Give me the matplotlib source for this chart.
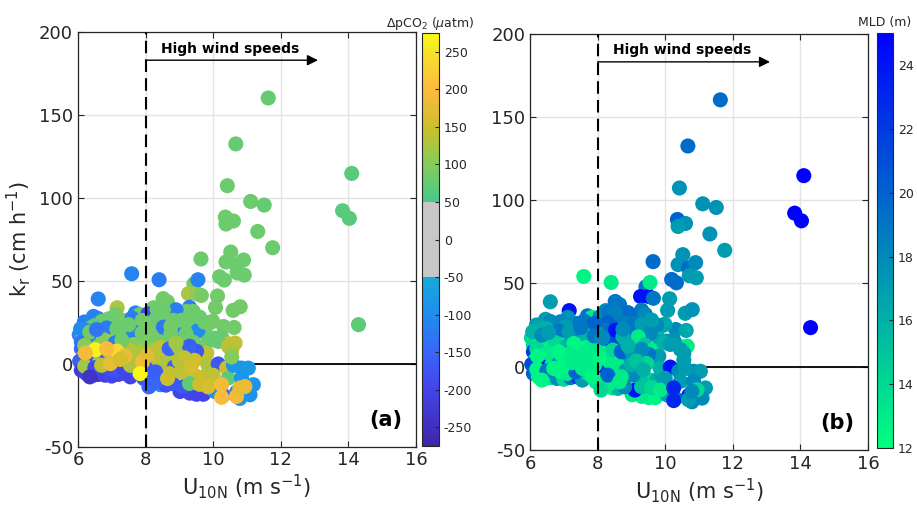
import numpy as np
import matplotlib
matplotlib.use("Agg")
import matplotlib.pyplot as plt
from matplotlib.colors import LinearSegmentedColormap, ListedColormap

# wind speed U10N (m/s), transfer velocity kr (cm/h), dpCO2 (uatm), MLD (m)
u10n = [
    11.63, 10.67, 14.10, 10.42, 11.11, 11.51, 13.83, 14.03, 10.36, 10.60,
    10.38, 11.32, 11.76, 10.52, 9.64, 10.38, 10.69, 10.90, 10.71, 10.92,
    10.19, 10.33, 9.43, 10.13, 14.30, 10.07, 10.59, 10.80, 10.31, 10.62,
    9.97, 9.27, 9.51, 9.65, 7.59, 8.40, 9.55, 6.60, 9.30, 8.52,
    8.65, 8.24, 7.16, 7.12, 7.70, 7.83, 8.07, 6.19, 6.46, 6.60,
    7.26, 8.80, 9.02, 9.22, 9.41, 8.90, 9.02, 9.07, 8.62, 8.82,
    9.07, 9.31, 9.41, 9.80, 9.99, 9.69, 9.86, 10.05, 10.25, 10.45,
    10.65, 8.57, 8.43, 8.50, 8.62, 8.34, 8.53, 8.29, 8.22, 8.44,
    8.17, 8.42, 8.53, 9.55, 9.75, 9.20, 8.75, 8.95, 9.40, 9.60,
    6.30, 6.42, 6.71, 6.49, 7.35, 7.48, 7.75, 7.94, 6.04, 6.12,
    6.15, 6.36, 6.56, 6.76, 7.01, 7.20, 7.30, 7.50, 7.75, 7.92,
    7.95, 6.90, 7.05, 7.60, 7.90, 6.85, 7.45, 7.65, 6.25, 7.15,
    6.51, 6.22, 7.15, 6.10, 6.30, 6.50, 6.70, 6.91, 6.60, 7.40,
    7.40, 7.45, 7.62, 7.80, 7.95, 7.65, 7.85, 8.00, 6.96, 6.30,
    6.45, 6.75, 6.85, 7.05, 7.25, 7.55, 6.10, 6.15, 6.05, 6.40,
    6.65, 6.85, 7.20, 7.45, 7.70, 7.91, 6.20, 6.75, 7.10, 7.30,
    6.10, 6.25, 6.45, 6.60, 6.80, 7.00, 7.20, 7.40, 7.55, 7.84,
    7.70, 7.95, 6.20, 6.50, 6.90, 7.10, 7.35, 6.35, 7.55, 6.70,
    8.49, 8.44, 8.52, 8.60, 8.82, 9.22, 9.66, 9.81, 9.51, 9.51,
    9.76, 9.91, 9.29, 9.35, 9.02, 9.31, 9.51, 9.71, 9.10, 9.30,
    8.80, 8.25, 8.35, 8.60, 8.85, 9.05, 8.15, 8.30, 8.70, 9.00,
    8.20, 8.45, 8.70, 9.00, 9.30, 9.45, 9.85, 9.60, 9.85, 8.10,
    9.96, 10.15, 10.45, 10.55, 10.15, 10.40, 10.84, 11.04, 10.45, 10.84,
    10.25, 10.05, 11.19, 11.09, 10.25, 10.30, 10.69, 10.94, 10.79, 10.79,
    10.60, 10.70, 10.00, 10.55, 6.08, 6.35, 6.95, 7.50, 7.80, 8.05,
    8.30, 8.65, 8.90, 9.15, 6.55, 7.25, 7.90, 8.15, 8.75, 9.60,
]
kr = [
    160.2, 132.5, 114.7, 107.3, 97.8, 95.6, 92.2, 87.6, 88.4, 86.0,
    84.2, 79.7, 69.9, 67.3, 63.1, 61.3, 59.3, 62.5, 54.7, 53.4,
    52.4, 50.4, 48.0, 40.8, 23.5, 33.9, 32.1, 34.3, 22.4, 21.8,
    25.3, 42.2, 42.2, 41.1, 54.2, 50.6, 50.6, 39.0, 34.0, 39.2,
    37.3, 33.7, 33.7, 29.6, 30.6, 29.6, 30.0, 25.1, 28.5, 27.2,
    23.5, 31.5, 30.5, 31.5, 31.5, 32.5, 20.5, 15.6, 26.5, 26.1,
    26.1, 25.5, 23.5, 22.9, 25.5, 19.0, 15.4, 15.4, 16.0, 12.0,
    12.4, 20.5, 15.6, 14.0, 13.0, 32.9, 32.5, 26.5, 22.0, 21.5,
    14.0, 15.0, 22.0, 20.0, 25.0, 18.0, 18.0, 12.0, 13.0, 10.0,
    24.0, 22.0, 25.5, 22.9, 26.0, 26.0, 22.1, 21.5, 17.4, 15.6,
    16.0, 15.4, 16.4, 18.4, 18.4, 17.4, 16.4, 14.6, 15.4, 15.0,
    16.0, 27.0, 24.0, 27.5, 26.0, 21.5, 20.5, 19.0, 20.0, 21.0,
    8.4, 6.4, 7.6, 13.0, 14.0, 13.0, 12.0, 13.2, 10.5, 11.5,
    4.6, 6.0, 3.0, 3.0, 2.5, 11.5, 11.5, 9.0, 0.0, 3.0,
    4.5, 5.0, 9.0, 3.5, 9.5, 8.0, 9.0, 4.0, 1.5, 0.5,
    1.5, 2.0, 1.0, 0.5, 0.0, 1.0, 11.0, 14.5, 12.5, 14.0,
    -4.0, -6.0, -7.0, -6.5, -7.0, -7.5, -6.5, -6.0, -8.0, -6.0,
    -4.0, -9.0, -1.5, -2.5, -3.0, -4.0, -3.0, -8.0, -1.0, -1.0,
    -6.0, -12.7, -10.6, -13.0, 5.4, 5.4, 3.4, 6.4, 7.4, -7.7,
    -7.7, -5.6, -8.8, -1.7, -16.8, -17.8, -18.5, -18.5, -14.0, -12.0,
    -12.0, -2.0, 3.0, 1.0, -2.0, -5.0, -8.0, -11.0, -6.0, 1.5,
    8.0, 10.0, 9.0, 9.5, 10.5, 2.0, -1.0, -12.5, -14.0, -14.0,
    14.4, 13.4, 10.4, 8.0, -0.2, -2.7, -2.7, -2.7, -8.7, -8.7,
    -12.7, -16.8, -12.7, -18.8, -20.3, -19.0, -19.8, -13.8, -14.7, -21.0,
    -1.0, -17.0, -7.0, 4.0, 21.0, 19.0, 6.5, 23.5, 6.5, 5.0,
    -5.0, -9.0, 12.5, 3.5, 20.5, 2.5, 18.5, 17.5, 22.5, 28.0,
]
dpco2 = [
    75, 75, 65, 80, 80, 75, 65, 65, 80, 80,
    80, 80, 80, 80, 80, 80, 80, 80, 80, 80,
    80, 80, 85, 85, 70, 85, 85, 85, 85, 85,
    85, 125, 110, 90, -110, -120, -110, -110, -120, 85,
    85, 85, 125, 85, -110, 80, -190, -120, -110, -115,
    -140, 80, 80, 85, 80, -120, -110, -110, 80, 80,
    80, 80, 80, 80, 85, 110, 75, 75, 75, 140,
    140, 80, 80, 130, 130, 80, 80, 80, 80, 80,
    80, 80, -130, -100, 85, 80, 85, 85, 80, 85,
    -110, 75, 80, 70, 90, 95, 80, 80, -110, -110,
    120, 75, 80, 85, 85, 85, -130, 80, 80, 110,
    110, 80, 80, -120, 85, -120, 80, -110, -100, 80,
    265, 190, 240, -130, -140, -130, -140, 150, 90, 90,
    180, -170, -170, -170, -170, 100, 100, 100, 180, 120,
    150, 130, 200, 110, 130, 130, -150, 130, -160, -180,
    110, -170, 100, -190, 95, 190, 100, 100, -120, 85,
    -220, -210, -200, -230, -210, -200, -200, -190, -200, 270,
    -180, -170, 120, -190, -190, -180, -200, -240, 130, 140,
    150, -100, -180, -180, 140, 140, 140, 140, -170, 150,
    150, 150, 150, 160, -200, -200, -200, -200, -170, 70,
    -170, -170, 140, 130, -160, 140, -160, -150, 140, 135,
    130, 140, -150, 120, -160, 150, 130, 150, 160, -150,
    75, 75, 140, 130, -170, 150, -80, -80, 70, -85,
    190, -90, -90, -90, 195, -150, 190, 180, 180, -90,
    -85, -110, 140, 100, -100, 85, 120, 80, 130, 170,
    -160, 150, 120, 140, -130, 160, 85, 90, 85, 80,
]
mld = [
    19.5, 19.5, 25, 17.5, 17.5, 17.5, 25, 25, 20, 17.5,
    17, 17.5, 17, 17.5, 19.5, 17.5, 19.5, 18, 17, 17,
    19.5, 19.5, 19, 17, 25, 17, 17, 17.5, 18, 16.5,
    17, 24, 24, 19, 12.5, 13, 13, 17, 18.5, 19,
    19, 18, 24, 17.5, 19, 13, 18, 17, 17, 18,
    19, 18.5, 18, 19, 18, 19.5, 19, 20, 19, 18.5,
    19, 17, 17, 16, 16.5, 15, 16.5, 17, 17.5, 17,
    13, 18, 18.5, 16, 15, 19, 18.5, 20, 19, 19.5,
    18, 21, 24, 18, 18, 13, 16, 14, 15, 13,
    16.5, 16, 18, 16, 18, 19, 18, 17, 14, 13,
    12.5, 13, 13.5, 17, 18, 19, 20, 18, 19, 20,
    17, 18, 17, 19, 20, 19, 18, 16, 16, 17,
    13, 12.5, 13, 14, 12.5, 13, 15, 13, 12.5, 12.5,
    13, 18, 20, 19, 18, 12.5, 13, 13, 12.5, 12.5,
    13, 12.5, 12.5, 13, 12.5, 13, 22, 13, 21, 24,
    13, 18, 12.5, 17, 12.5, 13, 14, 14, 16, 12.5,
    20, 12.5, 13, 13, 18, 14, 19, 22, 17, 12.5,
    14, 13, 12.5, 19, 12.5, 13, 20, 12.5, 13, 12.5,
    14, 13, 17, 16, 18, 17, 16, 17, 19, 14,
    16, 17, 15, 16, 13, 13, 13, 12.5, 24, 15,
    18, 22, 13, 13, 17, 18, 12.5, 13, 13, 16,
    13, 14, 20, 17, 18, 14, 16, 14, 13, 14,
    16, 17, 17, 17, 24, 18, 18, 17, 17, 18,
    23, 17, 17, 18, 23, 19, 17, 14, 18, 18,
    17, 23, 17, 17, 16, 18, 12.5, 19, 13, 12.5,
    20, 13, 16, 15, 17, 13, 19, 18, 18, 17,
]

# parula-like colormap with a grey band between -50 and 50
parula_vals = [-275, -200, -150, -100, -50, 0, 50, 100, 150, 200, 250, 275]
parula_rgb = [
    (0.24, 0.15, 0.66), (0.26, 0.27, 0.92), (0.22, 0.40, 0.98), (0.13, 0.55, 0.93),
    (0.08, 0.67, 0.86), (0.15, 0.75, 0.70), (0.27, 0.79, 0.55), (0.52, 0.80, 0.35),
    (0.80, 0.75, 0.17), (0.99, 0.73, 0.24), (0.97, 0.88, 0.17), (0.98, 0.98, 0.08),
]
vmin_a, vmax_a = -275, 275
base = LinearSegmentedColormap.from_list(
    "parula_like",
    [((v - vmin_a) / (vmax_a - vmin_a), c) for v, c in zip(parula_vals, parula_rgb)])
levels = np.linspace(vmin_a, vmax_a, 551)
cols = base((levels - vmin_a) / (vmax_a - vmin_a))
cols[(levels > -50) & (levels < 50)] = (0.78, 0.78, 0.78, 1.0)
cmap_a = ListedColormap(cols)

# draw the warm (high dpCO2) points last so they sit on top, as in the source
order = np.argsort(np.array(dpco2) > 150, kind="stable")
x = np.array(u10n)[order]
y = np.array(kr)[order]
c_a = np.array(dpco2)[order]
c_b = np.array(mld)[order]

TXT = "#262626"
plt.rcParams["font.family"] = "DejaVu Sans"
plt.rcParams["axes.unicode_minus"] = False

fig = plt.figure(figsize=(9.17, 5.08), dpi=100)
ax_a = fig.add_axes([0.085, 0.121, 0.3686, 0.816])
cax_a = fig.add_axes([0.4602, 0.122, 0.0185, 0.813])
ax_b = fig.add_axes([0.578, 0.114, 0.3686, 0.820])
cax_b = fig.add_axes([0.9564, 0.118, 0.0174, 0.817])


def style_axes(ax, tag):
    ax.set_xlim(6, 16)
    ax.set_ylim(-50, 200)
    ax.set_xticks([6, 8, 10, 12, 14, 16])
    ax.set_yticks([-50, 0, 50, 100, 150, 200])
    ax.grid(True, color="#e3e3e3", linewidth=1, zorder=0)
    ax.set_axisbelow(True)
    ax.tick_params(direction="in", top=True, right=True, labelsize=13,
                   colors=TXT, length=4)
    for sp in ax.spines.values():
        sp.set_color(TXT)
        sp.set_linewidth(0.9)
    ax.plot([6, 16], [0, 0], color="k", linewidth=1.3, zorder=1)
    ax.plot([8, 8], [-50, 200], color="k", linestyle=(0, (6, 3)),
            linewidth=1.5, zorder=5)
    ax.annotate("", xy=(13.1, 183), xytext=(8, 183),
                arrowprops=dict(arrowstyle="-|>", color="k", lw=1,
                                mutation_scale=16, shrinkA=0, shrinkB=0))
    ax.text(8.45, 190, "High wind speeds", fontsize=10, fontweight="bold",
            va="center", ha="left")
    ax.text(15.6, -34, tag, fontsize=15, fontweight="bold", ha="right",
            va="center")
    ax.set_xlabel("U$_\\mathrm{10N}$ (m s$^\\mathrm{-1}$)", fontsize=15,
                  color=TXT, labelpad=2)


sc_a = ax_a.scatter(x, y, c=c_a, cmap=cmap_a, vmin=vmin_a, vmax=vmax_a,
                    s=118, edgecolors="none", zorder=3, clip_on=False)
style_axes(ax_a, "(a)")
ax_a.set_ylabel("k$_\\mathrm{r}$ (cm h$^\\mathrm{-1}$)", fontsize=15,
                color=TXT, labelpad=4)

sc_b = ax_b.scatter(x, y, c=c_b, cmap="winter_r", vmin=12, vmax=25,
                    s=118, edgecolors="none", zorder=3, clip_on=False)
style_axes(ax_b, "(b)")

cb_a = fig.colorbar(sc_a, cax=cax_a, ticks=np.arange(-250, 251, 50))
cb_b = fig.colorbar(sc_b, cax=cax_b, ticks=np.arange(12, 25, 2))
for cb in (cb_a, cb_b):
    cb.ax.tick_params(direction="in", labelsize=9, colors=TXT, length=3)
    cb.outline.set_edgecolor(TXT)
cb_a.ax.set_title("$\\Delta$pCO$_2$ ($\\mu$atm)", fontsize=9, color=TXT, pad=4)
cb_b.ax.set_title("MLD (m)", fontsize=9, color=TXT, pad=5)

fig.savefig("out.png", dpi=100)
